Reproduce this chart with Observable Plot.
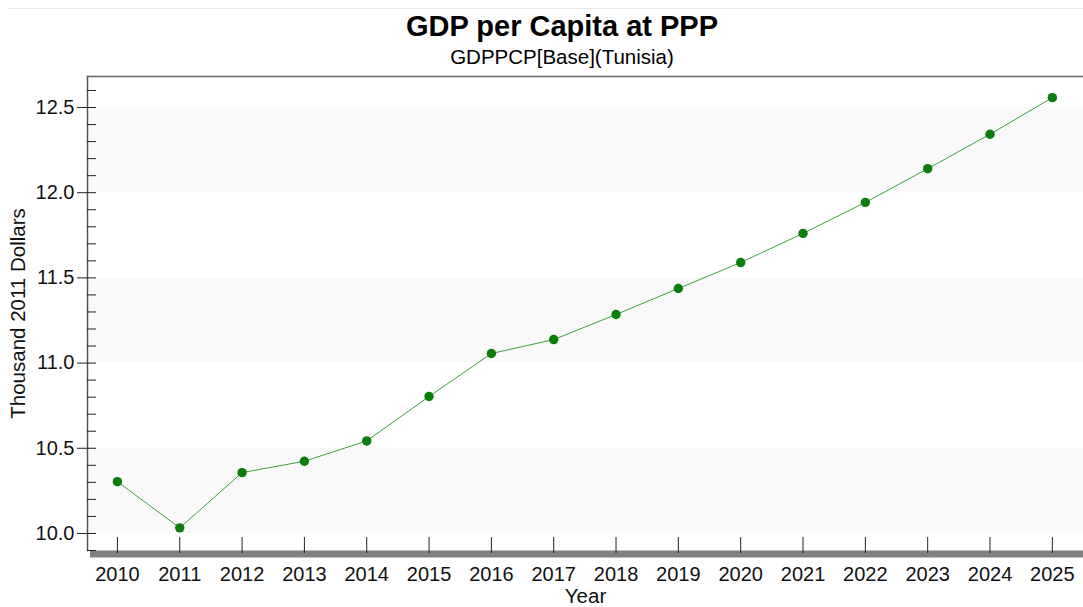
<!DOCTYPE html>
<html><head><meta charset="utf-8">
<script src="https://cdn.jsdelivr.net/npm/d3@7"></script>
<script src="https://cdn.jsdelivr.net/npm/@observablehq/plot@0.6"></script>
<style>
body{margin:0;background:#fff;font-family:"Liberation Sans",Arial,sans-serif;}
#wrap{position:relative;width:1083px;height:607px;overflow:hidden;background:#fff}
#topline{position:absolute;left:9px;right:0;top:8px;border-top:1px solid #e6e6e6}
#title{position:absolute;left:0;width:1124px;top:9px;text-align:center;font-weight:bold;font-size:29px;line-height:34px;color:#000;z-index:2}
#subtitle{position:absolute;left:0;width:1124px;top:46px;text-align:center;font-size:20.5px;line-height:22px;color:#000;z-index:2}
#chart{position:absolute;left:0;top:0}
</style>
</head><body>
<div id="wrap">
<div id="topline"></div>
<div id="title">GDP per Capita at PPP</div>
<div id="subtitle">GDPPCP[Base](Tunisia)</div>
<div id="chart"></div>
</div>
<script>
const years = [2010,2011,2012,2013,2014,2015,2016,2017,2018,2019,2020,2021,2022,2023,2024,2025];
const gdp = [10.304,10.033,10.357,10.424,10.543,10.804,11.056,11.138,11.285,11.438,11.590,11.761,11.943,12.141,12.343,12.558];
const majorTicks = [10.0,10.5,11.0,11.5,12.0,12.5];
const allYTicks = [9.9,10.0,10.1,10.2,10.3,10.4,10.5,10.6,10.7,10.8,10.9,11.0,11.1,11.2,11.3,11.4,11.5,11.6,11.7,11.8,11.9,12.0,12.1,12.2,12.3,12.4,12.5,12.6];
const bandStarts = [10.0,11.0,12.0];
const bandWidth = 0.5;

const data = years.map((y,i)=>({year:y, gdp:gdp[i]}));
const bands = bandStarts.map(b=>({lo:b, hi:b+bandWidth}));

const chart = Plot.plot({
  width:1083, height:607,
  marginLeft:87, marginRight:0, marginTop:76, marginBottom:57,
  style:{fontFamily:"Liberation Sans, Arial, sans-serif", fontSize:"20px", color:"#111", background:"transparent"},
  x:{domain:[2009.52,2025.5]},
  y:{domain:[9.9,12.682]},
  marks:[
    Plot.rect(bands,{y1:"lo", y2:"hi", fill:"#f9f9f9"}),
    Plot.frame({anchor:"bottom", stroke:"#808080", strokeWidth:7, dx:6, dy:3.5}),
    Plot.frame({anchor:"left", stroke:"#555", strokeWidth:1.5}),
    Plot.frame({anchor:"top", stroke:"#666", strokeWidth:1.5}),
    Plot.axisY(allYTicks,{tickSize:9, dx:9, text:null, label:null, stroke:"#222"}),
    Plot.axisY(majorTicks,{tickSize:10, tickPadding:3, tickFormat:d3.format(".1f"), fontSize:20, label:null, stroke:"#222"}),
    Plot.axisX(years,{tickSize:16, dy:-13, text:null, label:null, stroke:"#222"}),
    Plot.axisX(years,{tickSize:0, tickPadding:16, tickFormat:d=>String(d), fontSize:20, label:null}),
    Plot.text(["Year"],{frameAnchor:"bottom", dy:52, text:d=>d, fontSize:20.5, fill:"#111"}),
    Plot.text(["Thousand 2011 Dollars"],{frameAnchor:"left", textAnchor:"middle", dx:-69, rotate:-90, text:d=>d, fontSize:20.5, fill:"#111"}),
    Plot.line(data,{x:"year", y:"gdp", stroke:"#3f9f3f", strokeWidth:1}),
    Plot.dot(data,{x:"year", y:"gdp", r:4.7, fill:"#0a7d0a", stroke:"none"})
  ]
});
document.getElementById("chart").appendChild(chart);
</script>
</body></html>
